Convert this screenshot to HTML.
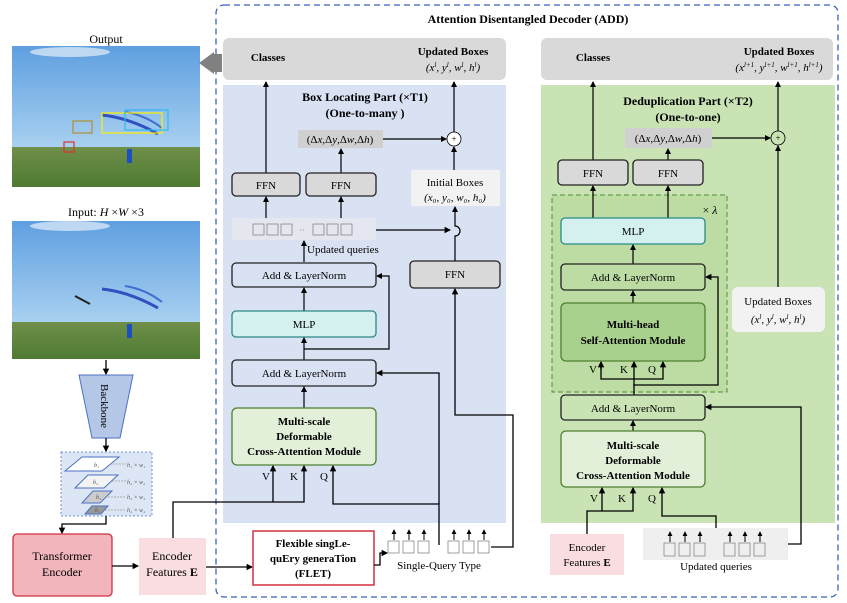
<!DOCTYPE html>
<html><head><meta charset="utf-8"><style>
html,body{margin:0;padding:0;background:#fff;}
svg{display:block;font-family:"Liberation Serif",serif;}
</style></head><body>
<svg width="847" height="603" viewBox="0 0 847 603" xmlns="http://www.w3.org/2000/svg">
<defs>
<marker id="a" viewBox="0 0 6 6" refX="5" refY="3" markerWidth="5" markerHeight="5" orient="auto"><path d="M0,0 L6,3 L0,6 z" fill="#000"/></marker>
<linearGradient id="sky" x1="0" y1="0" x2="0" y2="1"><stop offset="0" stop-color="#5f9fe0"/><stop offset="1" stop-color="#a8d0f0"/></linearGradient>
<linearGradient id="grass" x1="0" y1="0" x2="0" y2="1"><stop offset="0" stop-color="#6f8f4a"/><stop offset="1" stop-color="#4f7a32"/></linearGradient>
</defs>

<!-- photos -->
<text x="106" y="43" font-size="12" text-anchor="middle">Output</text>
<rect x="12" y="46" width="188" height="101" fill="url(#sky)"/>
<rect x="12" y="147" width="188" height="40" fill="url(#grass)"/>
<ellipse cx="70" cy="52" rx="40" ry="5" fill="#e6f0fa" opacity="0.7"/>
<path d="M102 115 Q130 118 158 134" stroke="#3050c0" stroke-width="3" fill="none"/>
<path d="M125 112 Q145 115 162 128" stroke="#4070d0" stroke-width="2" fill="none"/>
<rect x="102" y="113" width="60" height="20" fill="none" stroke="#ffee00" stroke-width="1.2"/>
<rect x="125" y="110" width="43" height="20" fill="none" stroke="#30b8f0" stroke-width="1.2"/>
<rect x="73" y="121" width="19" height="12" fill="none" stroke="#b09030" stroke-width="1.2"/>
<rect x="64" y="142" width="10" height="10" fill="none" stroke="#e03030" stroke-width="1.2"/>
<rect x="127" y="149" width="5" height="14" fill="#1a50c0"/>

<text x="106" y="216" font-size="12" text-anchor="middle">Input: <tspan font-style="italic">H</tspan> ×<tspan font-style="italic">W</tspan> ×3</text>
<rect x="12" y="221" width="188" height="101" fill="url(#sky)"/>
<rect x="12" y="322" width="188" height="37" fill="url(#grass)"/>
<ellipse cx="70" cy="226" rx="40" ry="5" fill="#e6f0fa" opacity="0.7"/>
<path d="M102 289 Q130 292 158 308" stroke="#3050c0" stroke-width="3" fill="none"/>
<path d="M125 286 Q145 289 162 302" stroke="#4070d0" stroke-width="2" fill="none"/>
<path d="M75 296 L90 304" stroke="#222" stroke-width="2"/>
<rect x="127" y="324" width="5" height="14" fill="#1a50c0"/>

<!-- backbone -->
<line x1="106" y1="360" x2="106" y2="374" stroke="#000" stroke-width="1.3" marker-end="url(#a)"/>
<polygon points="79,375 133,375 120,438 92,438" fill="#b4c7e7" stroke="#4a72c4" stroke-width="1"/>
<text transform="translate(101,406) rotate(90)" font-size="11" text-anchor="middle">Backbone</text>
<line x1="106" y1="438" x2="106" y2="451" stroke="#000" stroke-width="1.3" marker-end="url(#a)"/>
<rect x="61" y="452" width="91" height="64" fill="#dde6f5" stroke="#7090d0" stroke-dasharray="2,2"/>
<polygon points="65,471 82,457 119,457 102,471" fill="#fff" stroke="#4a72c4"/>
<polygon points="75,488 88,475 118,475 104,488" fill="#f4f4f4" stroke="#4a72c4"/>
<polygon points="82,503 93,491 112,491 100,503" fill="#ccc" stroke="#4a72c4"/>
<polygon points="85,514 92,506 108,506 101,514" fill="#999" stroke="#4a72c4"/>
<g font-size="6" font-style="italic" fill="#555"><text x="94" y="467">b₁</text><text x="93" y="484">b₂</text><text x="96" y="499">b₃</text><text x="95" y="512">b₄</text>
<text x="127" y="467">h₁ × w₁</text><text x="127" y="484">h₂ × w₂</text><text x="127" y="499">h₃ × w₃</text><text x="127" y="512">h₄ × w₄</text></g>
<g stroke="#999" stroke-dasharray="2,1" stroke-width="0.7"><line x1="110" y1="464" x2="126" y2="464"/><line x1="112" y1="481" x2="126" y2="481"/><line x1="108" y1="497" x2="126" y2="497"/><line x1="105" y1="510" x2="126" y2="510"/></g>
<polyline points="106,516 106,524 62,524 62,533" fill="none" stroke="#000" stroke-width="1.3" marker-end="url(#a)"/>

<rect x="13" y="534" width="99" height="62" rx="4" fill="#f2b5bb" stroke="#d03040" stroke-width="1.3"/>
<text x="62" y="560" font-size="12" text-anchor="middle">Transformer</text>
<text x="62" y="576" font-size="12" text-anchor="middle">Encoder</text>
<line x1="112" y1="566" x2="138" y2="566" stroke="#000" stroke-width="1.3" marker-end="url(#a)"/>
<rect x="139" y="538" width="67" height="57" fill="#f9dde0"/>
<text x="172" y="560" font-size="12" text-anchor="middle">Encoder</text>
<text x="172" y="576" font-size="12" text-anchor="middle">Features <tspan font-weight="bold">E</tspan></text>

<!-- ADD outer -->
<rect x="216" y="5" width="622" height="592" rx="8" fill="none" stroke="#3a62b8" stroke-width="1.3" stroke-dasharray="6,4"/>
<text x="528" y="23" font-size="12" font-weight="bold" text-anchor="middle">Attention Disentangled Decoder (ADD)</text>
<polygon points="222,54 214,54 214,52 199,63 214,74 214,72 222,72" fill="#808080"/>

<!-- left panel -->
<rect x="223" y="38" width="283" height="42" rx="6" fill="#d9d9d9"/>
<rect x="223" y="85" width="283" height="438" fill="#d9e2f3"/>
<text x="268" y="61" font-size="11" font-weight="bold" text-anchor="middle">Classes</text>
<text x="453" y="55" font-size="11" font-weight="bold" text-anchor="middle">Updated Boxes</text>
<text x="453" y="71" font-size="11" text-anchor="middle" font-style="italic">(x<tspan font-size="7" dy="-4">l</tspan><tspan dy="4">, y</tspan><tspan font-size="7" dy="-4">l</tspan><tspan dy="4">, w</tspan><tspan font-size="7" dy="-4">l</tspan><tspan dy="4">, h</tspan><tspan font-size="7" dy="-4">l</tspan><tspan dy="4">)</tspan></text>
<text x="365" y="101" font-size="12" font-weight="bold" text-anchor="middle">Box Locating Part (×T1)</text>
<text x="365" y="117" font-size="12" font-weight="bold" text-anchor="middle">(One-to-many )</text>
<rect x="298" y="130" width="85" height="18" fill="#d0d0d0"/>
<text x="340" y="143" font-size="11" text-anchor="middle">(Δ<tspan font-style="italic">x</tspan>,Δ<tspan font-style="italic">y</tspan>,Δ<tspan font-style="italic">w</tspan>,Δ<tspan font-style="italic">h</tspan>)</text>
<circle cx="454" cy="139" r="7" fill="#fff" stroke="#000" stroke-width="0.8"/>
<text x="454" y="142" font-size="9" text-anchor="middle">+</text>
<line x1="383" y1="139" x2="446" y2="139" stroke="#000" stroke-width="1.2" marker-end="url(#a)"/>
<line x1="454" y1="132" x2="454" y2="82" stroke="#000" stroke-width="1.2" marker-end="url(#a)"/>
<line x1="266" y1="173" x2="266" y2="82" stroke="#000" stroke-width="1.2" marker-end="url(#a)"/>
<line x1="341" y1="173" x2="341" y2="149" stroke="#000" stroke-width="1.2" marker-end="url(#a)"/>
<line x1="454" y1="170" x2="454" y2="147" stroke="#000" stroke-width="1.2" marker-end="url(#a)"/>
<rect x="232" y="173" width="68" height="23" rx="4" fill="#d9d9d9" stroke="#222" stroke-width="1.3"/>
<text x="266" y="189" font-size="11" text-anchor="middle">FFN</text>
<rect x="306" y="173" width="70" height="23" rx="4" fill="#d9d9d9" stroke="#222" stroke-width="1.3"/>
<text x="341" y="189" font-size="11" text-anchor="middle">FFN</text>
<rect x="411" y="170" width="89" height="36" fill="#f2f2f2"/>
<text x="455" y="186" font-size="11" text-anchor="middle">Initial Boxes</text>
<text x="455" y="201" font-size="11" text-anchor="middle" font-style="italic">(x₀, y₀, w₀, h₀)</text>
<line x1="266" y1="218" x2="266" y2="197" stroke="#000" stroke-width="1.2" marker-end="url(#a)"/>
<line x1="341" y1="218" x2="341" y2="197" stroke="#000" stroke-width="1.2" marker-end="url(#a)"/>
<rect x="232" y="218" width="144" height="22" fill="#e4e7ef"/>
<g fill="none" stroke="#888" stroke-width="0.8"><rect x="253" y="224" width="11" height="11"/><rect x="267" y="224" width="11" height="11"/><rect x="281" y="224" width="11" height="11"/><rect x="313" y="224" width="11" height="11"/><rect x="327" y="224" width="11" height="11"/><rect x="341" y="224" width="11" height="11"/></g>
<text x="302" y="233" font-size="8" text-anchor="middle" fill="#777">··</text>
<line x1="304" y1="262" x2="304" y2="241" stroke="#000" stroke-width="1.2" marker-end="url(#a)"/>
<text x="307" y="253" font-size="11">Updated queries</text>
<rect x="232" y="263" width="144" height="24" rx="4" fill="#d9e2f3" stroke="#222" stroke-width="1.3"/>
<text x="304" y="279" font-size="11" text-anchor="middle">Add &amp; LayerNorm</text>
<rect x="410" y="261" width="90" height="27" rx="4" fill="#d9d9d9" stroke="#222" stroke-width="1.3"/>
<text x="455" y="278" font-size="11" text-anchor="middle">FFN</text>
<path d="M455 261 L455 236 A5 5 0 0 0 455 226 L455 207" fill="none" stroke="#000" stroke-width="1.2" marker-end="url(#a)"/>
<line x1="304" y1="311" x2="304" y2="288" stroke="#000" stroke-width="1.2" marker-end="url(#a)"/>
<rect x="232" y="311" width="144" height="26" rx="4" fill="#d4f1f0" stroke="#2a8a86" stroke-width="1.3"/>
<text x="304" y="328" font-size="11" text-anchor="middle">MLP</text>
<line x1="304" y1="360" x2="304" y2="338" stroke="#000" stroke-width="1.2" marker-end="url(#a)"/>
<polyline points="304,349 389,349 389,276 377,276" fill="none" stroke="#000" stroke-width="1.2" marker-end="url(#a)"/>
<rect x="232" y="360" width="144" height="26" rx="4" fill="#d9e2f3" stroke="#222" stroke-width="1.3"/>
<text x="304" y="377" font-size="11" text-anchor="middle">Add &amp; LayerNorm</text>
<line x1="304" y1="408" x2="304" y2="387" stroke="#000" stroke-width="1.2" marker-end="url(#a)"/>
<rect x="232" y="408" width="144" height="57" rx="5" fill="#e2efd9" stroke="#4f7f30" stroke-width="1.3"/>
<text x="304" y="425" font-size="11" font-weight="bold" text-anchor="middle">Multi-scale</text>
<text x="304" y="440" font-size="11" font-weight="bold" text-anchor="middle">Deformable</text>
<text x="304" y="455" font-size="11" font-weight="bold" text-anchor="middle">Cross-Attention Module</text>
<text x="266" y="480" font-size="11" text-anchor="middle">V</text>
<text x="294" y="480" font-size="11" text-anchor="middle">K</text>
<text x="324" y="480" font-size="11" text-anchor="middle">Q</text>
<polyline points="173,538 173,502 304,502 304,466" fill="none" stroke="#000" stroke-width="1.3" marker-end="url(#a)"/>
<line x1="273" y1="502" x2="273" y2="466" stroke="#000" stroke-width="1.3" marker-end="url(#a)"/>
<polyline points="439,545 439,504 333,504 333,466" fill="none" stroke="#000" stroke-width="1.3" marker-end="url(#a)"/>
<polyline points="439,504 439,373 377,373" fill="none" stroke="#000" stroke-width="1.3" marker-end="url(#a)"/>
<polyline points="491,547 513,547 513,415 455,415 455,289" fill="none" stroke="#000" stroke-width="1.3" marker-end="url(#a)"/>
<polyline points="376,230 450,230 M460,230 526,230 526,588 716,588 716,576" fill="none" stroke="#000" stroke-width="1.3" marker-end="url(#a)"/>

<!-- FLET -->
<line x1="206" y1="567" x2="252" y2="567" stroke="#000" stroke-width="1.3" marker-end="url(#a)"/>
<rect x="253" y="531" width="121" height="54" fill="#fff" stroke="#d03040" stroke-width="1.5"/>
<text x="313" y="547" font-size="11" font-weight="bold" text-anchor="middle">Flexible singLe-</text>
<text x="313" y="562" font-size="11" font-weight="bold" text-anchor="middle">quEry generaTion</text>
<text x="313" y="577" font-size="11" font-weight="bold" text-anchor="middle">(FLET)</text>
<polyline points="374,565 380,565 380,553 387,553" fill="none" stroke="#000" stroke-width="1.3" marker-end="url(#a)"/>
<g fill="#fff" stroke="#888" stroke-width="0.8"><rect x="388" y="541" width="11" height="12"/><rect x="403" y="541" width="11" height="12"/><rect x="418" y="541" width="11" height="12"/><rect x="448" y="541" width="11" height="12"/><rect x="463" y="541" width="11" height="12"/><rect x="478" y="541" width="11" height="12"/></g>
<g stroke="#000" stroke-width="1" marker-end="url(#a)"><line x1="394" y1="540" x2="394" y2="530"/><line x1="409" y1="540" x2="409" y2="530"/><line x1="424" y1="540" x2="424" y2="530"/><line x1="454" y1="540" x2="454" y2="530"/><line x1="469" y1="540" x2="469" y2="530"/><line x1="484" y1="540" x2="484" y2="530"/></g>
<text x="439" y="569" font-size="11" text-anchor="middle">Single-Query Type</text>

<!-- right panel -->
<rect x="541" y="38" width="292" height="42" rx="6" fill="#d9d9d9"/>
<rect x="541" y="85" width="294" height="438" fill="#c9e3b5"/>
<text x="593" y="61" font-size="11" font-weight="bold" text-anchor="middle">Classes</text>
<text x="779" y="55" font-size="11" font-weight="bold" text-anchor="middle">Updated Boxes</text>
<text x="779" y="71" font-size="11" text-anchor="middle" font-style="italic">(x<tspan font-size="7" dy="-4">l+1</tspan><tspan dy="4">, y</tspan><tspan font-size="7" dy="-4">l+1</tspan><tspan dy="4">, w</tspan><tspan font-size="7" dy="-4">l+1</tspan><tspan dy="4">, h</tspan><tspan font-size="7" dy="-4">l+1</tspan><tspan dy="4">)</tspan></text>
<text x="688" y="105" font-size="12" font-weight="bold" text-anchor="middle">Deduplication Part (×T2)</text>
<text x="688" y="121" font-size="12" font-weight="bold" text-anchor="middle">(One-to-one)</text>
<rect x="625" y="128" width="87" height="20" fill="#d0d0d0"/>
<text x="668" y="142" font-size="11" text-anchor="middle">(Δ<tspan font-style="italic">x</tspan>,Δ<tspan font-style="italic">y</tspan>,Δ<tspan font-style="italic">w</tspan>,Δ<tspan font-style="italic">h</tspan>)</text>
<circle cx="778" cy="138" r="7" fill="none" stroke="#000" stroke-width="0.8"/>
<text x="778" y="141" font-size="9" text-anchor="middle">+</text>
<line x1="712" y1="138" x2="770" y2="138" stroke="#000" stroke-width="1.2" marker-end="url(#a)"/>
<line x1="778" y1="131" x2="778" y2="82" stroke="#000" stroke-width="1.2" marker-end="url(#a)"/>
<line x1="778" y1="287" x2="778" y2="146" stroke="#000" stroke-width="1.2" marker-end="url(#a)"/>
<line x1="593" y1="160" x2="593" y2="82" stroke="#000" stroke-width="1.2" marker-end="url(#a)"/>
<line x1="668" y1="160" x2="668" y2="149" stroke="#000" stroke-width="1.2" marker-end="url(#a)"/>
<rect x="558" y="160" width="70" height="25" rx="4" fill="#d9d9d9" stroke="#222" stroke-width="1.3"/>
<text x="593" y="177" font-size="11" text-anchor="middle">FFN</text>
<rect x="633" y="160" width="70" height="25" rx="4" fill="#d9d9d9" stroke="#222" stroke-width="1.3"/>
<text x="668" y="177" font-size="11" text-anchor="middle">FFN</text>
<rect x="552" y="195" width="175" height="197" fill="#bcdca4" stroke="#4f8f30" stroke-dasharray="5,3"/>
<text x="710" y="214" font-size="12" text-anchor="middle">× <tspan font-style="italic">λ</tspan></text>
<line x1="593" y1="218" x2="593" y2="186" stroke="#000" stroke-width="1.2" marker-end="url(#a)"/>
<line x1="668" y1="218" x2="668" y2="186" stroke="#000" stroke-width="1.2" marker-end="url(#a)"/>
<rect x="561" y="218" width="144" height="26" rx="4" fill="#d4f1f0" stroke="#2a8a86" stroke-width="1.3"/>
<text x="633" y="235" font-size="11" text-anchor="middle">MLP</text>
<line x1="633" y1="264" x2="633" y2="245" stroke="#000" stroke-width="1.2" marker-end="url(#a)"/>
<rect x="561" y="264" width="144" height="26" rx="4" fill="#bcdca4" stroke="#222" stroke-width="1.3"/>
<text x="633" y="281" font-size="11" text-anchor="middle">Add &amp; LayerNorm</text>
<line x1="633" y1="303" x2="633" y2="291" stroke="#000" stroke-width="1.2" marker-end="url(#a)"/>
<rect x="561" y="303" width="144" height="58" rx="5" fill="#a9d18e" stroke="#4f7f30" stroke-width="1.3"/>
<text x="633" y="328" font-size="11" font-weight="bold" text-anchor="middle">Multi-head</text>
<text x="633" y="344" font-size="11" font-weight="bold" text-anchor="middle">Self-Attention Module</text>
<text x="593" y="373" font-size="11" text-anchor="middle">V</text>
<text x="624" y="373" font-size="11" text-anchor="middle">K</text>
<text x="652" y="373" font-size="11" text-anchor="middle">Q</text>
<polyline points="634,395 634,385 718,385 718,277 706,277" fill="none" stroke="#000" stroke-width="1.3" marker-end="url(#a)"/>
<line x1="634" y1="386" x2="634" y2="362" stroke="#000" stroke-width="1.3" marker-end="url(#a)"/>
<polyline points="601,362 601,379 663,379 663,362" fill="none" stroke="#000" stroke-width="1.3" marker-end="url(#a)"/>
<line x1="601" y1="370" x2="601" y2="362" stroke="#000" stroke-width="1.3" marker-end="url(#a)"/>
<rect x="561" y="395" width="144" height="25" rx="4" fill="#c9e3b5" stroke="#222" stroke-width="1.3"/>
<text x="633" y="412" font-size="11" text-anchor="middle">Add &amp; LayerNorm</text>
<line x1="633" y1="431" x2="633" y2="421" stroke="#000" stroke-width="1.2" marker-end="url(#a)"/>
<rect x="561" y="431" width="144" height="56" rx="5" fill="#e2efd9" stroke="#4f7f30" stroke-width="1.3"/>
<text x="633" y="449" font-size="11" font-weight="bold" text-anchor="middle">Multi-scale</text>
<text x="633" y="464" font-size="11" font-weight="bold" text-anchor="middle">Deformable</text>
<text x="633" y="479" font-size="11" font-weight="bold" text-anchor="middle">Cross-Attention Module</text>
<text x="594" y="502" font-size="11" text-anchor="middle">V</text>
<text x="622" y="502" font-size="11" text-anchor="middle">K</text>
<text x="652" y="502" font-size="11" text-anchor="middle">Q</text>
<polyline points="587,534 587,511 633,511 633,488" fill="none" stroke="#000" stroke-width="1.3" marker-end="url(#a)"/>
<line x1="602" y1="511" x2="602" y2="488" stroke="#000" stroke-width="1.3" marker-end="url(#a)"/>
<polyline points="716,545 716,516 662,516 662,488" fill="none" stroke="#000" stroke-width="1.3" marker-end="url(#a)"/>
<polyline points="788,544 801,544 801,407 706,407" fill="none" stroke="#000" stroke-width="1.3" marker-end="url(#a)"/>
<rect x="732" y="287" width="93" height="45" rx="6" fill="#f2f2f2"/>
<text x="778" y="305" font-size="11" text-anchor="middle">Updated Boxes</text>
<text x="778" y="323" font-size="11" text-anchor="middle" font-style="italic">(x<tspan font-size="7" dy="-4">l</tspan><tspan dy="4">, y</tspan><tspan font-size="7" dy="-4">l</tspan><tspan dy="4">, w</tspan><tspan font-size="7" dy="-4">l</tspan><tspan dy="4">, h</tspan><tspan font-size="7" dy="-4">l</tspan><tspan dy="4">)</tspan></text>
<rect x="550" y="534" width="74" height="41" fill="#f9dde0"/>
<text x="587" y="551" font-size="11" text-anchor="middle">Encoder</text>
<text x="587" y="566" font-size="11" text-anchor="middle">Features <tspan font-weight="bold">E</tspan></text>
<rect x="643" y="528" width="145" height="32" fill="#efefef"/>
<g fill="none" stroke="#888" stroke-width="0.8"><rect x="664" y="543" width="11" height="13"/><rect x="679" y="543" width="11" height="13"/><rect x="694" y="543" width="11" height="13"/><rect x="724" y="543" width="11" height="13"/><rect x="739" y="543" width="11" height="13"/><rect x="754" y="543" width="11" height="13"/></g>
<g stroke="#000" stroke-width="1" marker-end="url(#a)"><line x1="670" y1="542" x2="670" y2="532"/><line x1="685" y1="542" x2="685" y2="532"/><line x1="700" y1="542" x2="700" y2="532"/><line x1="730" y1="542" x2="730" y2="532"/><line x1="745" y1="542" x2="745" y2="532"/><line x1="760" y1="542" x2="760" y2="532"/></g>
<text x="716" y="570" font-size="11" text-anchor="middle">Updated queries</text>
</svg>
</body></html>
